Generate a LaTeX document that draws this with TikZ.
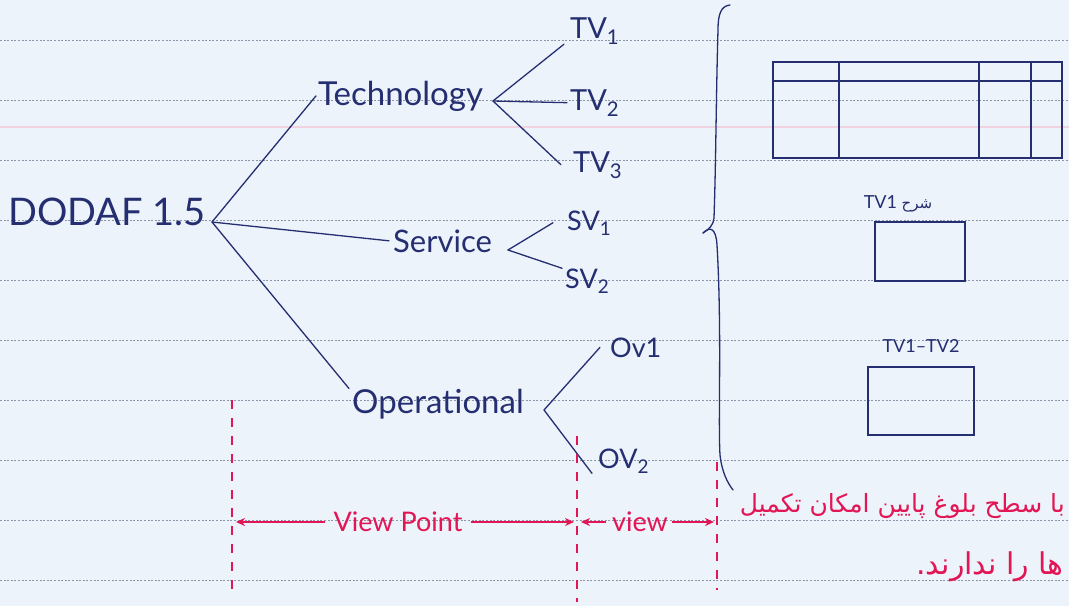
\documentclass[tikz,border=0pt]{standalone}
\usepackage{fontspec}
\setmainfont{Lato}
\newfontfamily\arabicfont[Script=Arabic]{DejaVu Sans}
\TeXXeTstate=1
\usetikzlibrary{arrows.meta,calc}
\definecolor{paper}{RGB}{236,243,250}
\definecolor{ink}{RGB}{36,46,112}
\definecolor{redink}{RGB}{226,22,84}
\definecolor{ruleclr}{RGB}{140,150,168}
\definecolor{pinkline}{RGB}{240,210,225}
\tikzset{
  lab/.style={inner sep=0pt, text=ink, anchor=base west},
  tree/.style={draw=ink, line width=1.3pt, line cap=round},
  boxshape/.style={draw=ink, line width=1.6pt, inner sep=0pt},
  reddash/.style={draw=redink, line width=2pt, dash pattern=on 9pt off 9pt},
  redarrow/.style={draw=redink, line width=1.8pt, -{Stealth[length=9pt,width=8pt]}},
  redtxt/.style={inner sep=0pt, text=redink},
  ruled/.style={draw=ruleclr, line width=0.7pt, dash pattern=on 2pt off 1.6pt}
}
\begin{document}
\begin{tikzpicture}[x=1pt,y=-1pt]
\useasboundingbox (0,0) rectangle (1069,606);
\fill[paper] (0,0) rectangle (1069,606);
\begin{scope}
\clip (0,0) rectangle (1069,606);
\draw[pinkline, line width=2.5pt] (0,127) -- (1069,127);
\foreach \yy in {40,100,...,580} \draw[ruled] (0,\yy) -- (1069,\yy);

% tree
\node[lab, font=\fontsize{38}{40}\selectfont] (dodaf) at (8,225) {DODAF 1.5};
\coordinate (j0) at (212,222);
\node[lab, font=\fontsize{33}{35}\selectfont] (tech) at (318,105) {Technology};
\node[lab, font=\fontsize{31}{33}\selectfont] (serv) at (393,252) {Service};
\node[lab, font=\fontsize{33}{35}\selectfont] (oper) at (352,413) {Operational};
\draw[tree] (j0) -- ([xshift=-2pt]tech.west);
\draw[tree] (j0) -- ([xshift=-4pt]serv.west);
\draw[tree] (j0) -- ([xshift=-3pt]oper.north west);

\node[lab, font=\fontsize{29}{31}\selectfont] (tv1) at (570,38) {TV\textsubscript{1}};
\node[lab, font=\fontsize{29}{31}\selectfont] (tv2) at (570,110) {TV\textsubscript{2}};
\node[lab, font=\fontsize{29}{31}\selectfont] (tv3) at (573,172) {TV\textsubscript{3}};
\coordinate (jT) at (493,101);
\draw[tree] (jT) -- ([xshift=-6pt]tv1.south west);
\draw[tree] (jT) -- ([xshift=-3pt]tv2.west);
\draw[tree] (jT) -- ([xshift=-12pt]tv3.west);

\node[lab, font=\fontsize{27}{29}\selectfont] (sv1) at (567,230) {SV\textsubscript{1}};
\node[lab, font=\fontsize{27}{29}\selectfont] (sv2) at (565,288) {SV\textsubscript{2}};
\coordinate (jS) at (508,250);
\draw[tree] (jS) -- ([xshift=-14pt]sv1.west);
\draw[tree] (jS) -- ([xshift=-3pt]sv2.north west);

\node[lab, font=\fontsize{27}{29}\selectfont] (ov1) at (610,357) {Ov1};
\node[lab, font=\fontsize{27}{29}\selectfont] (ov2) at (598,468) {OV\textsubscript{2}};
\coordinate (jO) at (544,410);
\draw[tree] (jO) -- ([xshift=-10pt]ov1.west);
\draw[tree] (jO) -- ([xshift=-6pt]ov2.south west);

% brace
\draw[tree, line width=1.3pt] (730,5) .. controls (721,6) and (718,14) .. (718,30)
  .. controls (716,100) and (716,160) .. (714,218)
  .. controls (713,226) and (709,229) .. (703,233);
\draw[tree, line width=1.3pt] (703,233) .. controls (710,226) and (716,228) .. (717,245)
  .. controls (722,330) and (718,420) .. (720,455)
  .. controls (722,472) and (727,482) .. (733,490);

% table
\node[boxshape, minimum width=289pt, minimum height=96pt] (tbl) at (917.5,110) {};
\draw[ink, line width=1.5pt] ($(tbl.north west)+(0,20)$) -- ($(tbl.north east)+(0,20)$);
\draw[ink, line width=1.5pt] ($(tbl.north west)+(67,0)$) -- ($(tbl.south west)+(67,0)$);
\draw[ink, line width=1.5pt] ($(tbl.north west)+(207,0)$) -- ($(tbl.south west)+(207,0)$);
\draw[ink, line width=1.5pt] ($(tbl.north west)+(259,0)$) -- ($(tbl.south west)+(259,0)$);

% small boxes
\node[lab, anchor=base, font=\fontsize{18}{20}\selectfont] (l1) at (898,208) {TV1 {\arabicfont\fontsize{15}{17}\selectfont\beginR شرح\endR}};
\node[boxshape, minimum width=90pt, minimum height=59pt] (b1) at (920,251.5) {};
\node[lab, anchor=base, font=\fontsize{18}{20}\selectfont] (l2) at (921,352) {TV1–TV2};
\node[boxshape, minimum width=106pt, minimum height=68pt] (b2) at (921,401) {};

% red dimension lines
\coordinate (d1t) at (232,400); \coordinate (d1b) at (232,590);
\coordinate (d2t) at (577,436); \coordinate (d2b) at (577,602);
\coordinate (d3t) at (717,462); \coordinate (d3b) at (717,590);
\draw[reddash] (d1t) -- (d1b);
\draw[reddash] (d2t) -- (d2b);
\draw[reddash] (d3t) -- (d3b);
\coordinate (a1) at (236,522);
\coordinate (a2) at (574,522);
\coordinate (a3) at (581,522);
\coordinate (a4) at (714,522);
\node[redtxt, font=\fontsize{27}{29}\selectfont] (vp) at (398,522) {View Point};
\node[redtxt, font=\fontsize{27}{29}\selectfont] (vw) at (640,522) {view};
\draw[redarrow] ([xshift=-8pt]vp.west) -- (a1);
\draw[redarrow] ([xshift=8pt]vp.east) -- (a2);
\draw[redarrow] ([xshift=-6pt]vw.west) -- (a3);
\draw[redarrow] ([xshift=4pt]vw.east) -- (a4);

% persian note
\node[redtxt, anchor=base east, font=\arabicfont\fontsize{25}{28}\selectfont] (fa1) at (1065,512) {\beginR با سطح بلوغ پایین امکان تکمیل\endR};
\node[redtxt, anchor=base east, font=\arabicfont\fontsize{30}{32}\selectfont] (fa2) at (1064,574) {\beginR ها را ندارند.\endR};
\end{scope}
\end{tikzpicture}
\end{document}
